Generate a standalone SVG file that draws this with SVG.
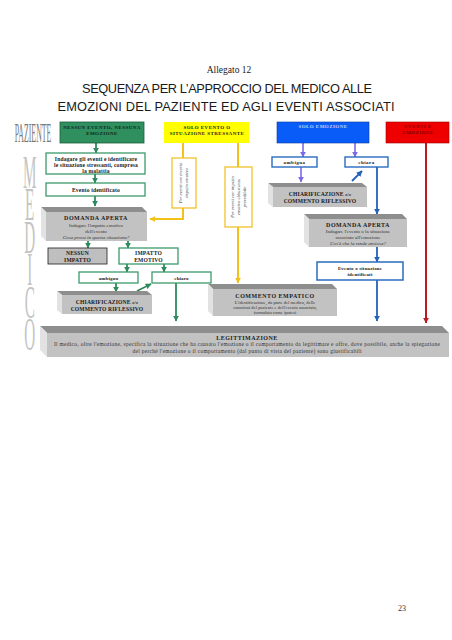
<svg xmlns="http://www.w3.org/2000/svg" width="452" height="640" viewBox="0 0 452 640">
<style>
text{font-family:"Liberation Serif","Times New Roman",serif;fill:#1a1a1a}
.c{text-anchor:middle}
.hd{font-size:5px;font-weight:bold;letter-spacing:0.45px;text-anchor:middle}
.bx{font-size:5.6px;font-weight:bold;text-anchor:middle;letter-spacing:0.15px}
.bt{font-size:6px;font-weight:bold;text-anchor:middle;letter-spacing:0.5px}
.sm{font-size:5px;text-anchor:middle;fill:#333}
.it{font-style:italic}
.vt{font-size:4.6px;font-style:italic;text-anchor:middle;fill:#444}
.gb{fill:#fff;stroke:#3c9a6c;stroke-width:1.3}
.bb{fill:#fff;stroke:#2a6cc0;stroke-width:1.4}
.yb{fill:#fff;stroke:#f0c22c;stroke-width:1.3}
.top{fill:#8e8e8e}
.side{fill:#e2e2e2}
.front{fill:#c2c2c2}
.big{font-size:46px;fill:#c4c4c4;writing-mode:vertical-rl;text-orientation:upright;letter-spacing:-18.5px}
.g{stroke:#2e8a5c;stroke-width:1.8;fill:none;marker-end:url(#ag)}
.y{stroke:#f2c11a;stroke-width:2;fill:none}
.ya{stroke:#f2c11a;stroke-width:2;fill:none;marker-end:url(#ay)}
.v{stroke:#7b6ae6;stroke-width:1.6;fill:none;marker-end:url(#av)}
.bl{stroke:#2262b8;stroke-width:1.8;fill:none;marker-end:url(#ab)}
.r{stroke:#b81c22;stroke-width:2;fill:none;marker-end:url(#ar)}
</style>
<defs>
<marker id="ag" viewBox="0 0 10 10" refX="9" refY="5" markerWidth="6" markerHeight="6" orient="auto" markerUnits="userSpaceOnUse"><path d="M0,0 L10,5 L0,10 z" fill="#2e8a5c"/></marker>
<marker id="ay" viewBox="0 0 10 10" refX="9" refY="5" markerWidth="6" markerHeight="6" orient="auto" markerUnits="userSpaceOnUse"><path d="M0,0 L10,5 L0,10 z" fill="#f2c11a"/></marker>
<marker id="av" viewBox="0 0 10 10" refX="9" refY="5" markerWidth="6" markerHeight="6" orient="auto" markerUnits="userSpaceOnUse"><path d="M0,0 L10,5 L0,10 z" fill="#7b6ae6"/></marker>
<marker id="ab" viewBox="0 0 10 10" refX="9" refY="5" markerWidth="6" markerHeight="6" orient="auto" markerUnits="userSpaceOnUse"><path d="M0,0 L10,5 L0,10 z" fill="#2262b8"/></marker>
<marker id="ar" viewBox="0 0 10 10" refX="9" refY="5" markerWidth="6" markerHeight="6" orient="auto" markerUnits="userSpaceOnUse"><path d="M0,0 L10,5 L0,10 z" fill="#b81c22"/></marker>
</defs>
<rect width="452" height="640" fill="#fff"/>

<g id="titles">
<text x="229" y="73" class="c" style="font-size:9.5px">Allegato 12</text>
<text x="227" y="93" class="c" style="font-family:'Liberation Sans',Arial,sans-serif;font-size:12.8px" textLength="290">SEQUENZA PER L’APPROCCIO DEL MEDICO ALLE</text>
<text x="226" y="111" class="c" style="font-family:'Liberation Sans',Arial,sans-serif;font-size:12.8px" textLength="337">EMOZIONI DEL PAZIENTE ED AGLI EVENTI ASSOCIATI</text>
<text transform="translate(33,142) scale(0.28,1)" class="c" style="font-size:28px;fill:#7a7a7a">PAZIENTE</text>
<text transform="scale(0.33,1)" class="big" x="90" y="146">MEDICO</text>
<text x="402" y="611" class="c" style="font-size:8px;fill:#333">23</text>
</g>

<g id="connectors">
<path class="g" d="M96,143 V153"/>
<path class="g" d="M95,174 V183"/>
<path class="g" d="M95,196 V206"/>
<path class="g" d="M88,241 V248"/>
<path class="g" d="M128,241 V248"/>
<path class="g" d="M127,264 V272"/>
<path class="g" d="M164,264 V272"/>
<path class="g" d="M116,283 V292"/>
<path class="g" d="M137,291 L151,284"/>
<path class="g" d="M176,283 V321"/>
<path class="y" d="M183,143 V158"/>
<path class="ya" d="M183,208 V219 H150"/>
<path class="y" d="M238,143 V167"/>
<path class="ya" d="M238,227 V283"/>
<path class="v" d="M303,143 V157"/>
<path class="v" d="M355,143 V157"/>
<path class="v" d="M301,167 V182"/>
<path class="bl" d="M352,181 L362,171"/>
<path class="bl" d="M377,167 V214"/>
<path class="bl" d="M377,247 V262"/>
<path class="bl" d="M377,280 V321"/>
<path class="r" d="M426,143 V323"/>
</g>

<g id="h-green">
<rect x="60" y="122" width="84" height="21" fill="#2f8f5e" stroke="#1d5e3c" stroke-width="0.8"/>
<text x="102" y="129" class="hd" style="fill:#0c2418">NESSUN EVENTO, NESSUNA</text>
<text x="102" y="135" class="hd" style="fill:#0c2418">EMOZIONE</text>
</g>
<g id="h-yellow">
<rect x="164" y="122" width="85" height="21" fill="#ffff00"/>
<text x="207" y="129" class="hd">SOLO EVENTO O</text>
<text x="207" y="135" class="hd">SITUAZIONE STRESSANTE</text>
</g>
<g id="h-blue">
<rect x="277" y="122" width="92" height="21" fill="#0a5cf8" stroke="#0a3aa0" stroke-width="0.6"/>
<text x="323" y="128" class="hd" style="fill:#c8d2f0">SOLO EMOZIONE</text>
</g>
<g id="h-red">
<rect x="386" y="122" width="63" height="21" fill="#ee0000" stroke="#a00000" stroke-width="0.6"/>
<text x="418" y="128" class="hd" style="fill:#7a0000">EVENTI E</text>
<text x="418" y="134" class="hd" style="fill:#7a0000">EMOZIONE</text>
</g>

<g id="g-indagare">
<rect x="46" y="153" width="99" height="21" class="gb"/>
<text x="96" y="160.5" class="bx">Indagare gli eventi e identificare</text>
<text x="96" y="166.5" class="bx">le situazione stressanti, compresa</text>
<text x="96" y="172.5" class="bx">la malattia</text>
</g>
<g id="g-evento">
<rect x="46" y="183" width="99" height="13" class="gb"/>
<text x="96" y="191.5" class="bx">Evento identificato</text>
</g>
<g id="g-domanda">
<polygon points="41,207 142,207 147,212 46,212" class="top"/>
<polygon points="41,207 46,212 46,241 41,236" class="side"/>
<rect x="46" y="212" width="101" height="29" class="front"/>
<text x="96" y="220" class="bt">DOMANDA APERTA</text>
<text x="96" y="226.5" class="sm">Indagare l'impatto emotivo</text>
<text x="96" y="232.5" class="sm">dell'evento</text>
<text x="96" y="239" class="sm it">Cosa prova in questa situazione?</text>
</g>
<g id="g-nessun">
<rect x="48" y="248" width="59" height="16" fill="#bfbfbf" stroke="#333" stroke-width="0.9"/>
<text x="77.5" y="255" class="bx">NESSUN</text>
<text x="77.5" y="261.5" class="bx">IMPATTO</text>
</g>
<g id="g-impatto">
<rect x="119" y="248" width="59" height="16" class="gb"/>
<text x="148.5" y="255" class="bx">IMPATTO</text>
<text x="148.5" y="261.5" class="bx">EMOTIVO</text>
</g>
<g id="g-ambiguo">
<rect x="79" y="272" width="59" height="11" class="gb"/>
<text x="108.5" y="279.5" class="bx" style="font-size:5px">ambiguo</text>
</g>
<g id="g-chiaro">
<rect x="152" y="272" width="59" height="11" class="gb"/>
<text x="181.5" y="279.5" class="bx" style="font-size:5px">chiaro</text>
</g>
<g id="g-chiarif">
<polygon points="57,291 147,291 152,295 62,295" class="top"/>
<polygon points="57,291 62,295 62,314 57,310" class="side"/>
<rect x="62" y="295" width="90" height="19" class="front"/>
<text x="107" y="304" class="bx">CHIARIFICAZIONE <tspan class="it" style="font-size:4.5px">e/o</tspan></text>
<text x="107" y="310.5" class="bx">COMMENTO RIFLESSIVO</text>
</g>

<g id="y-incerto">
<rect x="172" y="158" width="24" height="50" class="yb"/>
<text transform="translate(184,183) rotate(-90)" class="vt"><tspan x="0" y="-2">Per eventi con incerto</tspan><tspan x="0" y="4">impatto emotivo</tspan></text>
</g>
<g id="y-prevedibile">
<rect x="225" y="167" width="27" height="60" class="yb"/>
<text transform="translate(238.5,197) rotate(-90)" class="vt"><tspan x="0" y="-5">Per eventi con impatto</tspan><tspan x="0" y="1">emotivo abbastanza</tspan><tspan x="0" y="7">prevedibile</tspan></text>
</g>
<g id="commento">
<polygon points="208,284 332,284 337,289 213,289" class="top"/>
<polygon points="208,284 213,289 213,316 208,311" class="side"/>
<rect x="213" y="289" width="124" height="27" class="front"/>
<text x="275" y="297.5" class="bt">COMMENTO EMPATICO</text>
<text x="275" y="303.5" class="sm" style="font-size:4.6px">L'identificazione, da parte del medico, delle</text>
<text x="275" y="308.5" class="sm" style="font-size:4.6px">emozioni del paziente e dell'evento associato,</text>
<text x="275" y="313.5" class="sm" style="font-size:4.6px">formulata come ipotesi</text>
</g>

<g id="b-ambigua">
<rect x="272" y="157" width="45" height="10" class="bb"/>
<text x="294.5" y="164" class="bx" style="font-size:5px;letter-spacing:0.5px">ambigua</text>
</g>
<g id="b-chiara">
<rect x="345" y="157" width="43" height="10" class="bb"/>
<text x="366.5" y="164" class="bx" style="font-size:5px;letter-spacing:0.5px">chiara</text>
</g>
<g id="b-chiarif">
<polygon points="268,183 362,183 367,187 273,187" class="top"/>
<polygon points="268,183 273,187 273,207 268,203" class="side"/>
<rect x="273" y="187" width="94" height="20" class="front"/>
<text x="320" y="195.5" class="bx">CHIARIFICAZIONE <tspan class="it" style="font-size:4.5px">e/o</tspan></text>
<text x="320" y="202.5" class="bx">COMMENTO RIFLESSIVO</text>
</g>
<g id="b-domanda">
<polygon points="304,214 402,214 407,219 309,219" class="top"/>
<polygon points="304,214 309,219 309,247 304,242" class="side"/>
<rect x="309" y="219" width="98" height="28" class="front"/>
<text x="358" y="227" class="bt">DOMANDA APERTA</text>
<text x="358" y="233" class="sm">Indagare l'evento o la situazione</text>
<text x="358" y="239" class="sm">associato all'emozione</text>
<text x="358" y="245" class="sm it">Cos'è che la rende ansiosa?</text>
</g>
<g id="b-evento">
<rect x="317" y="262" width="86" height="18" class="bb" style="stroke-width:1.5"/>
<text x="360" y="269.5" class="bx" style="font-size:5px">Evento o situazione</text>
<text x="360" y="275.5" class="bx" style="font-size:5px">identificati</text>
</g>

<g id="legittimazione">
<polygon points="40,326 442,326 449,333 47,333" class="top"/>
<polygon points="40,326 47,333 47,357 40,350" class="side"/>
<rect x="47" y="333" width="402" height="24" class="front"/>
<text x="247" y="339.5" class="bt">LEGITTIMAZIONE</text>
<text x="247" y="346" class="sm" style="font-size:5.4px" textLength="386">Il medico, oltre l'emozione, specifica la situazione che ha causato l'emozione o il comportamento da legittimare e offre, dove possibile, anche la spiegazione</text>
<text x="247" y="352.5" class="sm" style="font-size:5.4px" textLength="229">del perché l'emozione o il comportamento (dal punto di vista del paziente) sono giustificabili</text>
</g>
</svg>
